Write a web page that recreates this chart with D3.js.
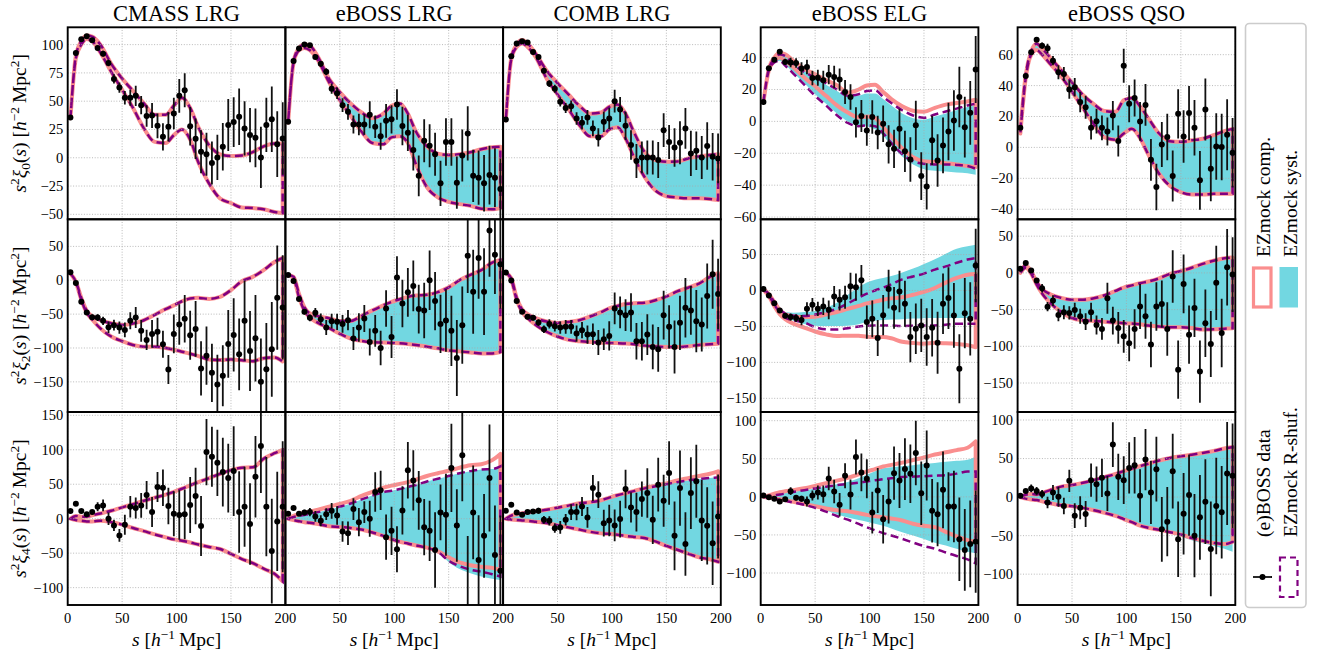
<!DOCTYPE html>
<html><head><meta charset="utf-8">
<script src="https://cdn.jsdelivr.net/npm/d3@7"></script>
<style>body{margin:0;background:#fff}svg text{font-family:"Liberation Serif","Times New Roman",serif;fill:#000}</style>
</head><body><svg id="c" width="1317" height="657" font-family="Liberation Serif, Times New Roman, serif"></svg>
<script>
// ---------- data ----------
const sBins = [2.5,7.5,12.5,17.5,22.5,27.5,32.5,37.5,42.5,47.5,52.5,57.5,62.5,67.5,72.5,77.5,82.5,87.5,92.5,97.5,102.5,107.5,112.5,117.5,122.5,127.5,132.5,137.5,142.5,147.5,152.5,157.5,162.5,167.5,172.5,177.5,182.5,187.5,192.5,197.5];
const sBand = [2.5,7.5,12.5,17.5,22.5,30,40,50,60,70,80,90,97.5,105,112.5,120,130,140,150,160,170,180,190,197.5];

const titles = ["CMASS LRG","eBOSS LRG","COMB LRG","eBOSS ELG","eBOSS QSO"];
const xTicks = [0,50,100,150,200];
const lrg0Ticks=[-50,-25,0,25,50,75,100], elg0Ticks=[-60,-40,-20,0,20,40], qso0Ticks=[-40,-20,0,20,40,60];
const lrg2Ticks=[-150,-100,-50,0,50], elg2Ticks=[-150,-100,-50,0,50], qso2Ticks=[-150,-100,-50,0,50];
const lrg4Ticks=[-100,-50,0,50,100,150], elg4Ticks=[-100,-50,0,50,100], qso4Ticks=[-100,-50,0,50,100];

// monopole points
const cmass0=[35.6,92.6,104.7,107.3,103.8,97,92,83.8,69.7,62,53,53,54.7,46.5,36.8,37.3,28.2,18.5,27.3,39.1,54.7,59.7,27.9,16.8,5.3,3.2,-4.7,0.3,9.7,29,31.5,36.2,25.9,20,17.6,0.3,29,34,12,17];
const cmass0E=[1,1,1,1,1.5,2,2.5,3,4,4.5,6,7,9,8,9.5,11,11,12,13,14,15,15,17,18,19,19,19,20,21,23,22,25,24,24,26,27,24,29,29,32];
const ebossL0=[31.8,85.6,96.5,100,99.4,89,83,76,61,57,46.5,40.6,29.4,29.4,29.4,38,27.4,19,32.6,34,47,28,22,6.8,-16,15,10.6,3.2,-22.6,14,14,-22,2,21.5,-16,-17.6,-22.6,-15.3,-17.6,-27.6];
const ebossL0E=[1,1,1,1,1,2,2.5,3,4.5,5,6,7,8,9.5,9,12,10,12,15,12.5,13.5,17,16,18,18,19,19,19,20,21,21,23,23,24,23,24,25,26,26,27];
const comb0=[33.8,89.7,101,103,101.8,93.5,89,77,65.6,61,49.4,44,45.6,34.7,31,35.6,25.9,18,31.8,34.7,50,42.6,28.2,11.2,-2.9,0.3,0.3,0.3,-2,24.4,14,9,13.2,25.9,3.8,6.2,0.3,10.3,0.9,-0.6];
const comb0E=[1,1,1,1,1,1.5,2,2.5,3,3.5,4,4.5,5,5.5,6,6.5,7,8,9,9.5,10,11,12.5,13,15,14,15,15,16,15,15,17,19,18,20,17,19,21,21,22];
const elg0=[12.1,33.3,38.7,43.6,37.3,36.9,36.6,33.1,34.1,27.2,27.4,25.8,29.3,27.9,26.2,18.4,15.3,-0.6,3.4,-5.7,2.7,-6.9,-1.5,-14.4,-17.2,-4.6,-18.8,-23.9,-2.5,-34.3,-40.8,-11.9,-24.5,-15.1,-6.3,0.6,15.3,-3.6,5.4,32.5];
const elg0E=[1,1,1,1,2,3,3,4,4.5,4.5,5,6,6,7,7,7.5,8,9.5,10,9.5,10.5,10.5,11.5,12,12,12.5,13,14,15.5,15,14.5,15.5,16.5,17.5,18,19,19,19,20,21];
const qso0=[12.7,46.2,61.5,69.7,65.8,64.1,56.1,48.6,47.5,37.4,38.9,29.3,26,12.7,17,12.7,10.3,20.6,4.1,52.9,28.2,32,16.8,27.5,-8,-25.6,1.9,6.7,-18.5,21.7,7.1,22.2,12.7,-21.3,24.5,-13.8,0.6,0.2,8.2,-3.4];
const qso0E=[1,1,1,1.5,2,3,3,4.5,4.5,6,6,6.5,7.5,7.5,8,8,9,9.5,10,11,12,12,12.5,13.5,13.5,15,14.5,15,16.5,16,17,17.5,18,19,20,21,21.5,21.5,23,22.5];

// quadrupole points
const cmass2=[11.9,-4,-31.7,-47.5,-54.5,-55,-59.9,-69.3,-66.3,-69.8,-73.3,-59.9,-55,-74.7,-88.1,-79.2,-76.2,-94.5,-131.7,-79.2,-65.3,-56.9,-81.2,-71.8,-130.2,-111.4,-136.6,-154,-141.1,-94,-80.7,-109.4,-59.9,-104.4,-85.6,-150,-131.2,-102,-25.7,-40.1];
const cmass2E=[1.5,2,3,3.5,4,5,6,8.5,8,9,11,12.5,15.5,16,15,20.5,21,20,21.5,28.5,30,35,36,41,40,43,43,44,45,50,54,53,59,59,64,64,68,70,77,77];
const ebossL2=[7.9,-1,-27.7,-46.5,-55.4,-48,-57.4,-69.8,-60.4,-61.4,-64.4,-58.9,-86.1,-69.8,-56.4,-91.1,-74.7,-100,-41.6,-83.7,4,-34.2,-17.8,-8.4,-42.6,-44.6,0,-30.7,-64.4,-59.4,-74.7,-114.8,-66.3,36.1,-16.8,32.7,-16.8,73.3,37.6,23.8];
const ebossL2E=[2,2,3,4,5,7,8.5,11,11,12,13,15,17,21,20,20,23.5,25.5,27,31,31.5,35,36,37.5,36,41,44,43,43,46,52,56,57,55,62,60,64,68,58,66];
const comb2=[11.4,-0.5,-30.7,-46.5,-54,-55.4,-62.4,-72.3,-64.4,-67.8,-69.8,-68.8,-68.8,-78.7,-73.8,-80.2,-79.7,-92,-87.1,-82.2,-41.6,-47.5,-51.5,-47.5,-90.1,-90.1,-80.2,-98.5,-102,-51.5,-68.8,-98.5,-62.9,-40.6,-44.6,-60.4,-65.3,-23.3,8.9,-20.3];
const comb2E=[1.5,2,2.5,3,3.5,4,5,5.5,7,8,9,10,10,12,12,13.5,16,18.5,16,21.5,23.5,23.5,23.5,28.5,27,28.5,30,33,33,36,32,39,40,44,36,46,40,48,51,52];
const elg2=[1.9,-6.9,-17.6,-27.8,-35.2,-37,-38.4,-41.2,-25.5,-19.9,-25.5,-22.2,-26.9,-8.3,-13,-9.3,6,4.6,14.4,-44,-39.4,-66.2,-34.3,1.9,-24.1,-1.4,-18.5,-64.8,-53.2,-48.6,-64.8,-51.9,-72.7,-18.5,-10.6,-34.7,-108.8,-31.5,-39.4,34.7];
const elg2E=[0.5,1,1.5,2,2.5,5,5.3,7,9.3,9.3,10,12,13,14.6,14.8,16,18.5,19,21,23,25.5,25,28,27,29,29,32,35,35,37,40,40,43,42,43,45,48,49,51,51];
const qso2=[5.5,13.6,3.2,-10.5,-20.9,-46,-37.7,-57.3,-53.6,-54.5,-50.5,-59.1,-66.4,-53.6,-70.9,-76.4,-34.5,-65,-75,-86.4,-95.9,-76.4,-45.9,-59.1,-97.7,-45.9,-42.3,-76.4,-5,-131.8,-15,-84.1,-47.7,-134.5,-68.6,-96.8,-13.6,-81.8,7.7,-2.3];
const qso2E=[1,1.5,2,3,5.7,6.4,7.3,8.6,9.5,9,9.8,10.2,11.4,13,13,14.8,21,19,21.6,22.3,24.5,26.8,30.7,30.7,31,33,32,36.4,35.7,39.8,40,39.8,39.8,42.5,46,45,50.7,46.6,52,51];

// hexadecapole points
const cmass4=[11.1,21.7,11.1,6.3,9.7,17.4,19.3,0,-9.7,-24.2,-8.7,17.4,15.5,19.3,34.3,9.7,45.9,44.9,18.4,7.2,5.3,6.3,19.8,32.8,-10.6,96.6,89.8,81.1,67.6,58.9,69.1,9.7,17.4,-7.7,60.9,105.3,17.4,-46.9,-3.9,17.4];
const cmass4E=[1,1.5,2,2.5,3,6.5,8.5,9,8,9.2,14.5,15.7,15.2,18,20.5,21.7,21.7,26.6,26.6,32.6,36,36,40.6,41,43.5,48,43.5,48,50,50,65,59,58,59,59,68,72,76,72,95];
const ebossL4=[7.1,15.4,7.1,9.1,9.6,3.3,-3.1,6.6,11.5,4.7,-18.6,-21,13.9,-5,9.6,-0.1,38.7,41.1,-26.8,-17.6,-44.3,12,70.2,55.6,26.6,-12.3,-17.6,-45.3,9.1,5.7,73.6,-9.8,92.1,-130,9.1,-59.9,-24.9,59.1,-52.6,-75.4];
const ebossL4E=[1,1.5,2,4,6,7.8,8,8.5,11.4,13.3,15,17,15.8,20.6,15.8,26,28.6,28.4,32.8,35,33.5,35,41,43.7,42.5,40.8,43.7,54.8,40.5,59.5,64,52.7,66.7,105,68,65,60.7,77.7,71.6,80];
const comb4=[11.5,20.2,9.1,5.7,9.6,10.5,11.5,-1.6,-3.1,-13.7,-12.7,-1.6,9.6,9.6,17.8,1.8,44.5,34.8,-6.5,-2.6,-9.8,-0.6,43,16.3,9.6,28.5,37.2,-1.6,49.4,26.1,66.3,-24.9,44.5,-36.6,37.2,54.2,-2.6,-10.3,-35.6,3.2];
const comb4E=[1,1.5,2,2,2.5,3,4.4,5.6,6.6,6.6,9.2,8.3,11.4,12,13.8,15,19,19.4,19.4,23,23,26.7,28,21.8,28,25.5,36,35,39,37.6,46,50,54.6,46,52,53,58.7,56,60.7,61];
const elg4=[1.8,-0.4,-2.6,-6.1,-3.1,7.5,-1.3,-2.6,-6.1,1.8,5.7,3.5,24.1,7,-10.5,27.6,3.1,52.2,32,23.7,-20.6,8.3,-29.4,-6.1,31.1,21.5,36.4,30.3,57.5,4.8,41.2,-18.4,-22.8,9.2,-12.7,-12.7,-55.7,-69.7,-61.8,-58.8];
const elg4E=[0.5,1,1.5,2,2.5,5,3.5,4,6.6,6.6,9.2,11.4,15.4,15.4,15.4,16.4,19.7,23,24.8,25.7,27.4,29.6,31.8,29,35,36,40.6,38.4,42.3,41.7,46,41.7,42,50.4,45,47,54.8,53.7,57,67];
const qso4=[1.7,7.8,11.2,7.8,3.9,-6.9,6,0.4,-11.6,21.1,-24.1,-13.8,-22,22,16.8,25,4.7,68.1,26.3,22,37.9,41.4,1.7,48.7,6,36.2,-41.8,-31.9,33.6,-54.7,-21.6,2.6,-50,-26.3,-6,-67.2,-11.6,-19.8,30.6,27.6];
const qso4E=[0.5,1,5,5.4,5.4,7.5,9.7,13,10.8,14.4,16,15,16.8,21.5,23,24.8,22.6,29,30,31,33.4,36.6,34.5,39.8,41,42,42,45,48.5,49,52.8,52.8,54,55,55,61.4,62.5,60,66.8,67.9];

// mock bands (on sBand)
const cmass0Hi=[35,90,103,108,107,100,83,70,59,48,38,38,46,53,44,27,11,3,1.5,2,5,10,12.5,12.5];
const cmass0Lo=[35,88,100,105,103,93,76,60,44,26,14,13,20,25,16,-4,-23,-36,-40,-44,-44.5,-45.5,-48,-49];
const ebossL0Hi=[31,85,97,100,99,89,70,58,48,40,35,39,46,48,39,23,10,3.7,2.4,3.2,4.8,7.5,9.3,9.7];
const ebossL0Lo=[31,84,95,97,95,86,67,51,37,23,13,12,18,19,13,-6,-26,-35,-39,-41,-42.5,-45,-45.5,-44.5];
const comb0Hi=[33,88,100,104,101,92,77,66,56,46,39,40,45,47,39,23,5,-2,-3.5,-3.3,-0.6,1.2,2.5,3.2];
const comb0Lo=[33,87,98,101,98,89,70,56,43,29,19,19,25,27,17,1,-17,-29,-34,-35.2,-35.9,-35.9,-36.5,-37.4];
const elg0PinkHi=[12,33,40,43,42,38,33,29.5,26,22.6,18,20,22.5,23,18.5,14,9.5,6.7,6,8.5,10.5,11.5,12.5,13.6];
const elg0PinkLo=[12,32,38,40,38,34,27.5,22,16,10,5.5,2.5,3,2,-3.5,-9.5,-17,-22.5,-25,-25.4,-26.2,-27,-28,-28.7];
const elg0PurpHi=[12,33,39,42,41,36,31,27.5,24,20,16,17,19,19.5,15.4,11.5,7,3.7,2.3,4.3,6.2,8,10,11.1];
const elg0PurpLo=[12,32,37,38,35,30,23,16,10,3.8,-1,-3,-2.5,-3,-7.5,-13.5,-20.5,-25,-26.6,-27,-27,-27.3,-28,-29.7];
const elg0CyanHi=[12,33,39,42,41,37,32,27,23,19,15.5,16,17.5,17.5,14,10,5,2,1,3,5,7,9,10];
const elg0CyanLo=[12,32,37,38,35.5,30.5,24,17,11,5,0,-2.5,-3,-5,-9,-15,-22,-27,-30,-31,-31.5,-32,-32.5,-33.5];
const qso0Hi=[11,47,62,67,64,58,50,42,34,28,23.5,23,30.5,32,26.5,19,9,4,3.6,4.6,5.6,8,10.5,12];
const qso0Lo=[9,45,60,63,60,54,46,36,25.5,15,6.5,5,9,12,6,-4.5,-17,-25,-29,-30.5,-30.5,-30,-29.9,-29.9];

const cmass2Hi=[10,-2,-26,-45,-53,-59,-63.5,-66,-64,-59,-51,-42.5,-37,-31,-27,-26,-27.5,-24.5,-14.5,-1.5,5,15,27,33];
const cmass2Lo=[10,-3,-29,-48,-58,-71,-83,-90,-95.5,-98,-98,-100,-102.5,-105.5,-108.5,-112,-117,-117.8,-117,-118,-119.5,-115,-114,-120];
const ebossL2Hi=[8,5,-20,-40,-49,-53,-56,-60,-60,-52.5,-44.5,-37,-32,-28,-24.5,-22.5,-21.5,-17.5,-10.5,0,8,15,26,30];
const ebossL2Lo=[8,3,-25,-45,-55,-63,-70.5,-79,-86,-89.5,-91.5,-92,-92.5,-93,-94,-95.5,-98,-100.5,-103.5,-105,-106.5,-108,-108,-106];
const comb2Hi=[11,3,-26,-43,-50,-56,-61,-63,-61.5,-59,-53.5,-47,-41.5,-38,-35,-34,-33.3,-29.5,-24,-16.5,-11,-5,5,10.5];
const comb2Lo=[11,1,-29,-47,-56,-66,-76,-83,-88,-90,-91.3,-92.2,-92.5,-92.8,-93.3,-94.3,-96.5,-97.8,-98.5,-98.5,-97.5,-95.5,-94.5,-93.6];
const elg2CyanHi=[2,-5,-15,-25,-30,-31,-30,-28.5,-24,-17,-6,4.5,11,15,17.5,20,25,30.5,37,43.5,51,58,61.5,63.5];
const elg2CyanLo=[1,-7,-20,-30,-36,-42,-46.5,-49,-49.5,-49.5,-49,-47,-44,-42,-41,-40.5,-40,-39,-38.5,-38.4,-38.4,-38.4,-38.4,-38.4];
const elg2PurpHi=[2,-5,-16,-26,-32,-35,-35.5,-33.5,-30,-25.5,-18,-10,-4.5,0,4,8.5,15.5,19.5,23.5,29,33.5,38.5,43,45];
const elg2PurpLo=[1,-7,-20,-30,-38,-41.5,-44.5,-51,-54,-54.2,-52.5,-50,-49,-48.6,-48.6,-48.8,-49.4,-49,-48.6,-48.6,-47.5,-46.3,-46.3,-46.3];
const elg2PinkHi=[2,-5,-16,-27,-33,-36,-37,-36.5,-33.5,-30,-25.5,-21.5,-18,-15.5,-13,-11,-9.5,-6,-2,3.5,11,17.5,22,23];
const elg2PinkLo=[1,-8,-22,-33,-40,-46,-51.5,-57,-61,-63.4,-62.8,-63,-64.3,-64.8,-64.8,-66.5,-71.3,-73,-74,-72.8,-73.5,-74.5,-76,-79];
const qso2Hi=[3,10,2,-12,-22,-29,-34,-36.5,-36.5,-34.5,-30.5,-24.5,-20,-17,-14,-11.8,-7.5,-1.3,2.5,7,12.2,16.5,20,21];
const qso2Lo=[0,7,-1,-16,-28,-41,-53,-61.5,-64.5,-65.6,-66.5,-67.7,-68.5,-69.1,-70,-71.8,-73,-74.1,-74.1,-75,-77.2,-76.8,-76,-75.5];

const cmass4Hi=[0,4,3,3,5,7.5,11.5,16.5,21,26,30.5,35,39,43.5,48.5,53,59,65,70.5,74,74.5,87,95,100];
const cmass4Lo=[0,-2,-3,-4,-4,-3,-5,-8.5,-13.5,-18,-22.8,-27,-30,-32,-34.5,-37.5,-41,-44,-51,-58.5,-64.5,-72.5,-80,-91];
const ebossL4PinkHi=[0,4,6.5,8.5,10.3,13,17.4,21.5,26,33,39,45,48,50.5,53,56.5,62,66,69.5,74,77.5,79,85,94];
const ebossL4PurpHi=[0,2.5,4,5.5,7,9.5,13.5,17.5,22,28,33.5,38.5,40.5,43,46,49,54,58,62,66,69,71.3,72,76];
const ebossL4PinkLo=[0,-2,-3.6,-5,-5.8,-7.8,-11,-12,-13.5,-15.7,-20,-25,-29.5,-33.5,-36,-38.8,-42,-47.5,-56,-63.5,-67.5,-69.8,-71.3,-74.4];
const ebossL4PurpLo=[0,-2,-3.6,-5,-5.8,-7.8,-11,-12,-13.5,-15.7,-20,-25,-29.5,-33.5,-36,-38.8,-42,-48,-61,-69,-74,-77,-80.5,-84];
const ebossL4CyanLo=[0,-2,-3.6,-5,-5.8,-7.8,-11,-12,-13.5,-15.7,-20,-25,-29.5,-33.5,-36,-38.8,-42,-48,-63,-73,-79,-84,-87,-89];
const comb4Hi=[0,4.5,6.5,8,9,10.7,13,16,19,22.4,24,26.8,30.5,34,37,40,44.5,48,51.3,55.5,58.8,62,65.3,68.8];
const comb4PurpHi=[0,4.5,6.5,8,9,10.7,13,16,19,22.4,24,26.8,30.5,34,37,40,44,47,50,53,55.5,57.5,59,60];
const comb4Lo=[0,-1.2,-2,-2.5,-3,-4.4,-6.4,-9.5,-12.6,-15.8,-19,-21.3,-22,-23.2,-25,-26.4,-28,-33,-39.5,-45,-50.7,-56,-59,-62.5];
const elg4PinkHi=[0,2,4,6,7.3,8.8,11.2,14.4,18,21.3,25,29.5,33.3,36.5,39.8,42,44.9,48.4,51.7,55.6,58.5,61.3,64.5,72.8];
const elg4PurpHi=[0,1,2,3,4.3,6.3,8.8,11,13.3,15.4,16.8,18.6,20.2,21.7,23.2,24.5,26,26.6,27.1,27.7,28.5,30.5,33.3,33.3];
const elg4CyanHi=[0,1.5,3,4.5,5.5,6.5,8.5,11,13.5,16.5,19.5,24.5,29,33.5,37.5,39,40.2,41.5,43,44.4,46,47.3,48.8,53];
const elg4PinkLo=[0,-1,-2,-3,-4.3,-6.5,-9.4,-12.3,-15.2,-17.6,-19,-21.5,-23.7,-25.3,-26.7,-28.4,-31,-35.3,-37.9,-39.7,-46,-51.8,-56.8,-58.8];
const elg4PurpLo=[0,-1.2,-2.4,-3.8,-5.2,-7.4,-10.5,-14.3,-19.5,-25.2,-30,-35.5,-40,-44,-47.6,-50.7,-55.2,-60,-64.6,-68,-73,-77.6,-82.2,-87.3];
const elg4CyanLo=[0,-1,-2,-3,-4.3,-6.8,-10,-13.2,-18,-23,-27.2,-30.4,-32.6,-35.3,-38,-41.4,-46.4,-50.7,-55.5,-60.4,-64,-68.3,-72,-74.1];
const qso4Hi=[0,3,4,3.5,5.5,9,13.6,15.6,18.5,22,26,30,33.7,37,40.2,43.3,47.5,50.7,53,55,57.2,59.8,63,65];
const qso4Lo=[0,-2,-3,-3.9,-5.6,-8,-10.5,-11.8,-14,-17,-20.5,-24.5,-28.5,-32.5,-37,-39.8,-42.5,-45.5,-48.5,-53,-56.7,-59.5,-61,-58];
const qso4CyanLo=[0,-2,-3,-3.9,-5.6,-8,-10.5,-11.8,-14,-17,-20.5,-24.5,-28.5,-32.5,-37,-39.8,-43,-47,-51,-56,-60,-63,-67,-71];

// ---------- panel table built from the arrays ----------
const panels = [
 {r:0,c:0,pts:cmass0,err:cmass0E,cyan:null,pink:[cmass0Lo,cmass0Hi],purp:[cmass0Lo,cmass0Hi]},
 {r:0,c:1,pts:ebossL0,err:ebossL0E,cyan:[ebossL0Lo,ebossL0Hi],pink:[ebossL0Lo,ebossL0Hi],purp:[ebossL0Lo,ebossL0Hi]},
 {r:0,c:2,pts:comb0,err:comb0E,cyan:[comb0Lo,comb0Hi],pink:[comb0Lo,comb0Hi],purp:[comb0Lo,comb0Hi]},
 {r:0,c:3,pts:elg0,err:elg0E,cyan:[elg0CyanLo,elg0CyanHi],pink:[elg0PinkLo,elg0PinkHi],purp:[elg0PurpLo,elg0PurpHi]},
 {r:0,c:4,pts:qso0,err:qso0E,cyan:[qso0Lo,qso0Hi],pink:[qso0Lo,qso0Hi],purp:[qso0Lo,qso0Hi]},
 {r:1,c:0,pts:cmass2,err:cmass2E,cyan:null,pink:[cmass2Lo,cmass2Hi],purp:[cmass2Lo,cmass2Hi]},
 {r:1,c:1,pts:ebossL2,err:ebossL2E,cyan:[ebossL2Lo,ebossL2Hi],pink:[ebossL2Lo,ebossL2Hi],purp:[ebossL2Lo,ebossL2Hi]},
 {r:1,c:2,pts:comb2,err:comb2E,cyan:[comb2Lo,comb2Hi],pink:[comb2Lo,comb2Hi],purp:[comb2Lo,comb2Hi]},
 {r:1,c:3,pts:elg2,err:elg2E,cyan:[elg2CyanLo,elg2CyanHi],pink:[elg2PinkLo,elg2PinkHi],purp:[elg2PurpLo,elg2PurpHi]},
 {r:1,c:4,pts:qso2,err:qso2E,cyan:[qso2Lo,qso2Hi],pink:[qso2Lo,qso2Hi],purp:[qso2Lo,qso2Hi]},
 {r:2,c:0,pts:cmass4,err:cmass4E,cyan:null,pink:[cmass4Lo,cmass4Hi],purp:[cmass4Lo,cmass4Hi]},
 {r:2,c:1,pts:ebossL4,err:ebossL4E,cyan:[ebossL4CyanLo,ebossL4PurpHi],pink:[ebossL4PinkLo,ebossL4PinkHi],purp:[ebossL4PurpLo,ebossL4PurpHi]},
 {r:2,c:2,pts:comb4,err:comb4E,cyan:[comb4Lo,comb4PurpHi],pink:[comb4Lo,comb4Hi],purp:[comb4Lo,comb4PurpHi]},
 {r:2,c:3,pts:elg4,err:elg4E,cyan:[elg4CyanLo,elg4CyanHi],pink:[elg4PinkLo,elg4PinkHi],purp:[elg4PurpLo,elg4PurpHi]},
 {r:2,c:4,pts:qso4,err:qso4E,cyan:[qso4CyanLo,qso4Hi],pink:[qso4Lo,qso4Hi],purp:[qso4Lo,qso4Hi]}
];

// ---------- layout ----------
const colX = [[67.7,285.4],[285.4,503.1],[503.1,720.8],[760.7,978.4],[1017.6,1235.3]];
const rowY = [[27.3,219.3],[219.3,412],[412,605]];
const yLims = [[[-54.4,115.3],[-61.4,59],[-46.5,77.7]],
               [[-194.5,90],[-169,99],[-189.5,73]],
               [[-125.2,154.8],[-142,111.4],[-140,110.4]]];
const yTickSets = [[lrg0Ticks,elg0Ticks,qso0Ticks],[lrg2Ticks,elg2Ticks,qso2Ticks],[lrg4Ticks,elg4Ticks,qso4Ticks]];
const CYAN="#72d7e1", PINK="#fa8e8e", PURP="#800080";
const FONT='"Liberation Serif","Times New Roman",serif';
const fmt = v => (v<0?"\u2212":"")+Math.abs(v);

const svg = d3.select("#c");
const defs = svg.append("defs");
const kind = c => c<3?0:(c===3?1:2);

panels.forEach((p,idx)=>{
  const [x0,x1]=colX[p.c], [y0,y1]=rowY[p.r], k=kind(p.c);
  const x=d3.scaleLinear().domain([0,200]).range([x0,x1]);
  const y=d3.scaleLinear().domain(yLims[p.r][k]).range([y1,y0]);
  const cid="clip"+idx;
  defs.append("clipPath").attr("id",cid).append("rect").attr("x",x0).attr("y",y0).attr("width",x1-x0).attr("height",y1-y0);
  const g=svg.append("g").style("font-family",FONT);
  const gc=g.append("g").attr("clip-path",`url(#${cid})`);
  const area=(lo,hi)=>d3.area().x((d,i)=>x(sBand[i])).y0((d,i)=>y(lo[i])).y1((d,i)=>y(hi[i])).curve(d3.curveMonotoneX)(sBand);
  if(p.cyan) gc.append("path").attr("d",area(p.cyan[0],p.cyan[1])).attr("fill",CYAN);
  gc.append("path").attr("d",area(p.pink[0],p.pink[1])).attr("fill","none").attr("stroke",PINK).attr("stroke-width",4).attr("stroke-linejoin","round");
  gc.append("path").attr("d",area(p.purp[0],p.purp[1])).attr("fill","none").attr("stroke",PURP).attr("stroke-width",2.5).attr("stroke-dasharray","8,4.5");
  // grid
  const yt=yTickSets[p.r][k];
  gc.selectAll(".gx").data(xTicks).join("line").attr("x1",d=>x(d)).attr("x2",d=>x(d)).attr("y1",y0).attr("y2",y1)
    .attr("stroke","#a8a8a8").attr("stroke-width",0.8).attr("stroke-dasharray","1,1.7");
  gc.selectAll(".gy").data(yt).join("line").attr("y1",d=>y(d)).attr("y2",d=>y(d)).attr("x1",x0).attr("x2",x1)
    .attr("stroke","#a8a8a8").attr("stroke-width",0.8).attr("stroke-dasharray","1,1.7");
  // data
  gc.selectAll(".eb").data(p.pts).join("line").attr("x1",(d,i)=>x(sBins[i])).attr("x2",(d,i)=>x(sBins[i]))
    .attr("y1",(d,i)=>y(d-p.err[i])).attr("y2",(d,i)=>y(d+p.err[i])).attr("stroke","#111").attr("stroke-width",1.8);
  gc.selectAll(".pt").data(p.pts).join("circle").attr("cx",(d,i)=>x(sBins[i])).attr("cy",d=>y(d)).attr("r",3).attr("fill","#000");
  // border
  g.append("rect").attr("x",x0).attr("y",y0).attr("width",x1-x0).attr("height",y1-y0).attr("fill","none").attr("stroke","#000").attr("stroke-width",1.9);
  // y tick labels
  if(p.c===0||p.c>=3){
    g.selectAll(".yl").data(yt).join("text").attr("x",x0-4.5).attr("y",d=>y(d)).attr("dy","0.34em")
      .attr("text-anchor","end").attr("font-size",14.5).text(fmt);
  }
  // x tick labels on bottom row
  if(p.r===2){
    const xs = (p.c===1||p.c===2)? xTicks.filter(v=>v!==0) : xTicks;
    g.selectAll(".xl").data(xs).join("text").attr("x",d=>x(d)).attr("y",y1+17.5).attr("text-anchor","middle").attr("font-size",14.5).text(d=>d);
    const xl=g.append("text").attr("x",(x0+x1)/2).attr("y",646).attr("text-anchor","middle").attr("font-size",19.5);
    xl.append("tspan").attr("font-style","italic").text("s");
    xl.append("tspan").text(" [");
    xl.append("tspan").attr("font-style","italic").text("h");
    xl.append("tspan").attr("dy",-7).attr("font-size",13.5).text("\u22121");
    xl.append("tspan").attr("dy",7).text("\u2009Mpc]");
  }
  if(p.r===0){
    g.append("text").attr("x",(x0+x1)/2).attr("y",20.5).attr("text-anchor","middle").attr("font-size",22.5).text(titles[p.c]);
  }
  if(p.c===0){
    const l=["0","2","4"][p.r];
    const t=g.append("text").attr("transform",`translate(26,${(y0+y1)/2}) rotate(-90)`).attr("text-anchor","middle").attr("font-size",19.5);
    t.append("tspan").attr("font-style","italic").text("s");
    t.append("tspan").attr("dy",-7).attr("font-size",13.5).text("2");
    t.append("tspan").attr("dy",7).attr("font-style","italic").text("\u03BE");
    t.append("tspan").attr("dy",4).attr("font-size",13.5).text(l);
    t.append("tspan").attr("dy",-4).text("(");
    t.append("tspan").attr("font-style","italic").text("s");
    t.append("tspan").text(") [");
    t.append("tspan").attr("font-style","italic").text("h");
    t.append("tspan").attr("dy",-7).attr("font-size",13.5).text("\u22122");
    t.append("tspan").attr("dy",7).text("\u2009Mpc");
    t.append("tspan").attr("dy",-7).attr("font-size",13.5).text("2");
    t.append("tspan").attr("dy",7).text("]");
  }
});

// ---------- legend ----------
const lg=svg.append("g").style("font-family",FONT);
lg.append("rect").attr("x",1245.5).attr("y",23.5).attr("width",60.5).attr("height",584).attr("rx",4)
  .attr("fill","#fff").attr("stroke","#cccccc").attr("stroke-width",1.6);
const legendItems=[
  {label:"EZmock comp.",tx:1270,ty:257},
  {label:"EZmock syst.",tx:1297,ty:257},
  {label:"(e)BOSS data",tx:1270,ty:537},
  {label:"EZmock R-shuf.",tx:1297,ty:537}
];
legendItems.forEach(it=>{
  lg.append("text").attr("transform",`translate(${it.tx},${it.ty}) rotate(-90)`).attr("font-size",19.5).text(it.label);
});
lg.append("rect").attr("x",1253.5).attr("y",268).attr("width",17.5).attr("height",39).attr("fill","none").attr("stroke",PINK).attr("stroke-width",3.2);
lg.append("rect").attr("x",1279.5).attr("y",267).attr("width",18.5).attr("height",40.5).attr("fill",CYAN);
lg.append("line").attr("x1",1253).attr("x2",1272).attr("y1",577).attr("y2",577).attr("stroke","#111").attr("stroke-width",1.8);
lg.append("circle").attr("cx",1262.5).attr("cy",577).attr("r",3).attr("fill","#000");
lg.append("rect").attr("x",1280).attr("y",557.5).attr("width",17.5).attr("height",39.5).attr("fill","none").attr("stroke",PURP).attr("stroke-width",2.2).attr("stroke-dasharray","6,4");
</script>
</body></html>
